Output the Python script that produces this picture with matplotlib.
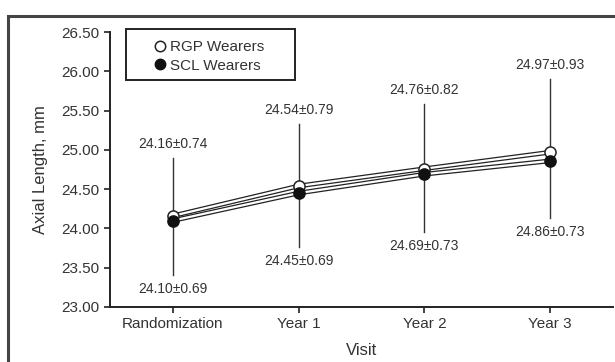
import matplotlib
matplotlib.use("Agg")
import matplotlib.pyplot as plt
from matplotlib.patches import Rectangle
from matplotlib.lines import Line2D

visits = ["Randomization", "Year 1", "Year 2", "Year 3"]
rgp_mean = [24.16, 24.54, 24.76, 24.97]
rgp_sd = [0.74, 0.79, 0.82, 0.93]
scl_mean = [24.10, 24.45, 24.69, 24.86]
scl_sd = [0.69, 0.69, 0.73, 0.73]
yticks = [23.00, 23.50, 24.00, 24.50, 25.00, 25.50, 26.00, 26.50]

plt.rcParams['font.family'] = ['Liberation Sans', 'DejaVu Sans']
txt = '#333333'

fig = plt.figure(figsize=(6.15, 3.62), dpi=100)
ax = fig.add_axes([110/615, 1 - 307/362, 503/615, 275/362])

x = list(range(len(visits)))

# error whiskers: RGP upward, SCL downward
for i in x:
    ax.plot([i, i], [rgp_mean[i], rgp_mean[i] + rgp_sd[i]], color='#333333', lw=1, zorder=1)
    ax.plot([i, i], [scl_mean[i], scl_mean[i] - scl_sd[i]], color='#333333', lw=1, zorder=1)

# hollow double-line look for each series
for m in (rgp_mean, scl_mean):
    ax.plot(x, m, color='#222222', lw=3.4, zorder=2, solid_capstyle='butt')
    ax.plot(x, m, color='white', lw=1.6, zorder=3, solid_capstyle='butt')

ax.plot(x, rgp_mean, ls='none', marker='o', ms=8, mfc='white', mec='#222222', mew=1.1, zorder=4)
ax.plot(x, scl_mean, ls='none', marker='o', ms=8, mfc='#111111', mec='#111111', mew=1.1, zorder=5)

for i in x:
    top = rgp_mean[i] + rgp_sd[i]
    ax.annotate(f"{rgp_mean[i]:.2f}\u00b1{rgp_sd[i]:.2f}", (i, top), xytext=(0, 5),
                textcoords='offset points', ha='center', va='bottom', fontsize=10, color=txt)
    bot = scl_mean[i] - scl_sd[i]
    ax.annotate(f"{scl_mean[i]:.2f}\u00b1{scl_sd[i]:.2f}", (i, bot), xytext=(0, -5),
                textcoords='offset points', ha='center', va='top', fontsize=10, color=txt)

ax.set_xlim(-0.5, 3.5)
ax.set_ylim(23.0, 26.5)
ax.set_yticks(yticks)
ax.set_yticklabels([f"{v:.2f}" for v in yticks])
ax.set_xticks(x)
ax.set_xticklabels(visits)
ax.tick_params(axis='both', labelsize=11, colors='#222222', labelcolor=txt, length=4, width=1.2)
for s in ('top', 'right'):
    ax.spines[s].set_visible(False)
for s in ('left', 'bottom'):
    ax.spines[s].set_linewidth(1.4)
    ax.spines[s].set_color('#222222')

ax.set_xlabel("Visit", fontsize=12, color=txt, labelpad=8)
ax.set_ylabel("Axial Length, mm", fontsize=12, color=txt, labelpad=10)

handles = [Line2D([], [], ls='none', marker='o', ms=7.5, mfc='white', mec='#222222', mew=1.1),
           Line2D([], [], ls='none', marker='o', ms=7.5, mfc='#111111', mec='#111111')]
leg = ax.legend(handles, ["RGP Wearers", "SCL Wearers"], loc='upper left',
                bbox_to_anchor=(0.085, 0.97), fontsize=11, frameon=False,
                handletextpad=0.15, handlelength=1.0, borderpad=0, labelspacing=0.3,
                borderaxespad=0)
for t in leg.get_texts():
    t.set_color(txt)
# legend box drawn separately
ax.add_patch(Rectangle((16/503, 227/275), 169/503, 51/275, transform=ax.transAxes,
                       fill=False, ec='#222222', lw=1.4, clip_on=False, zorder=6))

# outer panel border, open at the right and bottom
fig.patches.append(Rectangle((8/615, -0.2), 1.2, (362 - 16)/362 + 0.2, transform=fig.transFigure,
                             fill=False, ec='#444444', lw=2.2, clip_on=False))

fig.savefig("out.png", dpi=100)
